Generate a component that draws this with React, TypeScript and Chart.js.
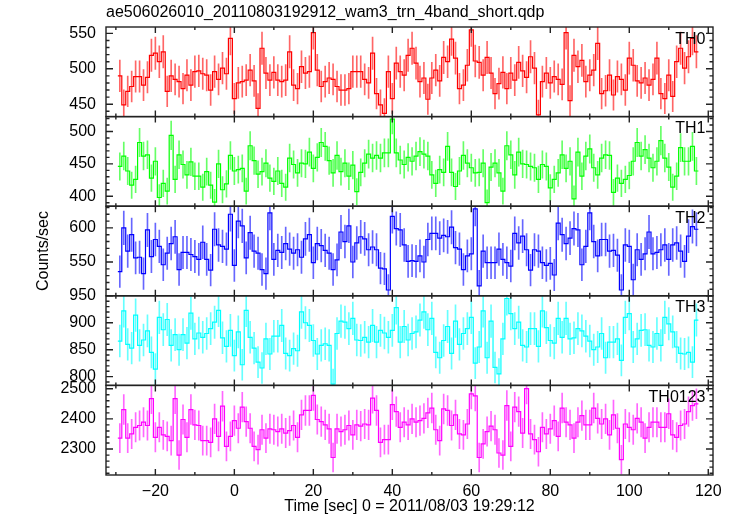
import React, { useEffect, useRef } from 'react';
import { Chart, registerables } from 'chart.js';

Chart.register(...registerables);

const TITLE = 'ae506026010_20110803192912_wam3_trn_4band_short.qdp';
const X_LABEL = 'Time [sec] 0 = 2011/08/03 19:29:12';
const Y_LABEL = 'Counts/sec';

// 1-second bins, first bin centred at -29 s
const FIRST_BIN = -29;
const BIN_WIDTH = 1;
const X_MIN = -32.5;
const X_MAX = 121.2;

const panelNames = ['TH0', 'TH1', 'TH2', 'TH3', 'TH0123'];
const panelColors = ['#ff0000', '#00ff00', '#0000ff', '#00ffff', '#ff00ff'];
const panelErrColors = [
  'rgba(255,0,0,0.6)',
  'rgba(0,255,0,0.6)',
  'rgba(0,0,255,0.6)',
  'rgba(0,255,255,0.6)',
  'rgba(255,0,255,0.6)',
];
const panelMin = [432.5, 384.6, 500.5, 783.7, 2214];
const panelMax = [559, 523, 631.8, 950, 2511];
const panelMajor = [50, 50, 50, 50, 100];
const panelMinor = [10, 10, 10, 10, 20];

const th0 = [
  490, 449, 468, 475, 489, 489, 477, 488, 519, 522,
  510, 524, 468, 490, 485, 482, 472, 491, 477, 496,
  497, 493, 491, 470, 496, 485, 501, 493, 543, 458,
  480, 482, 484, 498, 483, 444, 529, 494, 484, 495,
  484, 482, 484, 524, 477, 472, 503, 494, 496, 551,
  498, 475, 482, 487, 485, 475, 470, 470, 472, 496,
  496, 496, 485, 480, 522, 465, 449, 437, 496, 458,
  508, 496, 491, 519, 529, 508, 482, 487, 457, 487,
  498, 483, 516, 510, 542, 515, 472, 477, 505, 555,
  511, 509, 491, 516, 494, 465, 479, 495, 472, 494,
  484, 509, 497, 488, 517, 501, 435, 482, 494, 480,
  489, 485, 478, 551, 455, 519, 503, 512, 482, 491,
  498, 536, 465, 469, 491, 463, 489, 485, 470, 515,
  505, 483, 480, 487, 477, 485, 515, 465, 458, 491,
  461, 510, 529, 501, 517, 543, 524,
];

const th1 = [
  446, 462, 439, 417, 426, 483, 462, 464, 428, 454,
  398, 420, 408, 494, 426, 464, 449, 433, 453, 431,
  431, 414, 438, 417, 391, 450, 410, 419, 463, 439,
  441, 443, 408, 478, 455, 434, 438, 451, 428, 423,
  439, 420, 414, 459, 449, 436, 451, 450, 468, 443,
  460, 483, 477, 455, 436, 463, 438, 451, 431, 448,
  407, 437, 451, 465, 459, 463, 459, 467, 467, 519,
  467, 456, 449, 460, 454, 462, 469, 465, 462, 433,
  420, 441, 437, 477, 437, 415, 439, 463, 451, 444,
  436, 437, 451, 390, 445, 451, 436, 408, 478, 464,
  433, 468, 450, 449, 446, 444, 426, 449, 446, 413,
  426, 436, 464, 443, 454, 396, 468, 431, 462, 473,
  444, 433, 459, 464, 463, 406, 428, 420, 426, 432,
  454, 483, 462, 472, 459, 444, 454, 486, 459, 445,
  414, 431, 475, 454, 454, 477, 439,
];

const th2 = [
  536, 600, 566, 590, 556, 557, 533, 597, 558, 583,
  573, 546, 563, 577, 587, 539, 564, 564, 561, 558,
  554, 579, 554, 538, 598, 575, 573, 569, 620, 545,
  610, 603, 556, 593, 566, 563, 539, 533, 622, 554,
  567, 564, 577, 569, 563, 568, 557, 584, 590, 549,
  577, 574, 567, 563, 539, 553, 594, 580, 603, 550,
  578, 587, 584, 568, 572, 568, 541, 540, 509, 617,
  599, 597, 575, 551, 552, 551, 559, 550, 583, 592,
  592, 585, 589, 587, 601, 571, 569, 539, 559, 562,
  628, 515, 566, 549, 549, 549, 569, 554, 549, 544,
  592, 578, 588, 568, 538, 568, 566, 549, 545, 548,
  531, 607, 590, 577, 585, 599, 597, 546, 573, 622,
  580, 559, 583, 583, 566, 567, 560, 509, 575, 573,
  524, 568, 554, 562, 594, 562, 564, 568, 575, 554,
  575, 578, 566, 551, 588, 602, 598,
];

const th3 = [
  866, 922, 860, 853, 914, 858, 868, 885, 845, 814,
  910, 887, 906, 858, 878, 850, 878, 862, 918, 870,
  881, 873, 880, 889, 901, 923, 872, 856, 886, 839,
  883, 822, 923, 873, 853, 827, 816, 870, 842, 875,
  875, 895, 843, 839, 852, 848, 920, 900, 895, 867,
  842, 858, 861, 858, 786, 880, 903, 901, 889, 908,
  868, 867, 873, 864, 895, 864, 886, 881, 873, 886,
  928, 864, 893, 868, 880, 883, 905, 920, 887, 908,
  845, 835, 867, 893, 843, 903, 860, 880, 889, 910,
  825, 855, 922, 835, 903, 817, 805, 870, 945, 917,
  889, 901, 858, 855, 889, 889, 856, 922, 891, 867,
  862, 908, 873, 908, 870, 872, 889, 885, 875, 866,
  850, 855, 880, 835, 864, 864, 870, 830, 910, 917,
  855, 870, 886, 887, 858, 855, 880, 858, 910, 898,
  883, 855, 843, 842, 845, 827, 905,
];

const th0123 = [
  2336, 2431, 2336, 2350, 2372, 2378, 2389, 2378, 2467, 2339,
  2372, 2347, 2342, 2328, 2467, 2280, 2398, 2339, 2431, 2380,
  2378, 2328, 2328, 2322, 2400, 2342, 2442, 2309, 2342, 2394,
  2369, 2439, 2391, 2369, 2309, 2298, 2364, 2336, 2367, 2364,
  2358, 2367, 2353, 2361, 2378, 2339, 2413, 2428, 2428, 2478,
  2398, 2391, 2380, 2367, 2272, 2367, 2358, 2364, 2378, 2347,
  2380, 2376, 2383, 2380, 2469, 2428, 2322, 2331, 2331, 2447,
  2424, 2372, 2389, 2380, 2400, 2389, 2394, 2402, 2420, 2436,
  2364, 2328, 2433, 2428, 2378, 2413, 2350, 2347, 2383, 2483,
  2476, 2272, 2317, 2358, 2376, 2364, 2287, 2280, 2444, 2309,
  2439, 2424, 2353, 2500, 2350, 2331, 2291, 2372, 2350, 2367,
  2394, 2342, 2436, 2389, 2380, 2336, 2389, 2411, 2380, 2380,
  2436, 2402, 2383, 2400, 2347, 2413, 2369, 2265, 2383, 2372,
  2364, 2402, 2389, 2336, 2372, 2389, 2389, 2372, 2372, 2417,
  2347, 2339, 2378, 2383, 2424, 2444, 2450,
];

const series = [th0, th1, th2, th3, th0123];

const FONT_FAMILY = '"Liberation Sans", Arial, Helvetica, sans-serif';

const panelPlugin = {
  id: 'qdpPanels',
  beforeDatasetDraw(chart: any, args: any) {
    const ds = chart.data.datasets[args.index];
    const ys = chart.scales[ds.yAxisID];
    const { left, right } = chart.chartArea;
    const ctx = chart.ctx;
    ctx.save();
    ctx.beginPath();
    ctx.rect(left, ys.top, right - left, ys.bottom - ys.top);
    ctx.clip();
  },
  afterDatasetDraw(chart: any) {
    chart.ctx.restore();
  },
  afterDraw(chart: any) {
    const ctx = chart.ctx;
    const { left, right } = chart.chartArea;
    const xs = chart.scales.x;
    ctx.save();
    ctx.strokeStyle = '#222';
    ctx.lineWidth = 1.4;
    for (let i = 0; i < series.length; i++) {
      const ys = chart.scales['y' + i];
      const top = ys.top;
      const bottom = ys.bottom;
      ctx.strokeRect(left, top, right - left, bottom - top);
      ctx.beginPath();
      for (let k = Math.ceil(X_MIN / 10); k * 10 <= X_MAX; k++) {
        const v = k * 10;
        const px = xs.getPixelForValue(v);
        const len = v % 20 === 0 ? 6 : 3;
        ctx.moveTo(px, top);
        ctx.lineTo(px, top + len);
        ctx.moveTo(px, bottom);
        ctx.lineTo(px, bottom - len);
      }
      const minor = panelMinor[i];
      const major = panelMajor[i];
      for (let k = Math.ceil(panelMin[i] / minor); k * minor <= panelMax[i]; k++) {
        const v = k * minor;
        const py = ys.getPixelForValue(v);
        const len = v % major === 0 ? 7 : 3.5;
        ctx.moveTo(left, py);
        ctx.lineTo(left + len, py);
        ctx.moveTo(right, py);
        ctx.lineTo(right - len, py);
      }
      ctx.stroke();
      ctx.fillStyle = '#000';
      ctx.font = '16px ' + FONT_FAMILY;
      ctx.textAlign = 'right';
      ctx.textBaseline = 'alphabetic';
      ctx.fillText(panelNames[i], right - 7.5, top + 16.5);
    }
    ctx.restore();
  },
};

export default function App() {
  const ref = useRef<HTMLCanvasElement | null>(null);

  useEffect(() => {
    const canvas = ref.current;
    if (!canvas) return;

    const datasets: any[] = [];
    series.forEach((vals, i) => {
      const steps = vals.map((v, j) => ({ x: FIRST_BIN + j * BIN_WIDTH - BIN_WIDTH / 2, y: v }));
      steps.push({
        x: FIRST_BIN + (vals.length - 1) * BIN_WIDTH + BIN_WIDTH / 2,
        y: vals[vals.length - 1],
      });
      datasets.push({
        type: 'line',
        label: panelNames[i],
        data: steps,
        yAxisID: 'y' + i,
        xAxisID: 'x',
        stepped: true,
        borderColor: panelColors[i],
        borderWidth: 1.2,
        pointRadius: 0,
        fill: false,
        tension: 0,
        order: 0,
      });
      datasets.push({
        type: 'bar',
        label: panelNames[i] + ' err',
        data: vals.map((v, j) => {
          const e = Math.sqrt(v);
          return { x: FIRST_BIN + j * BIN_WIDTH, y: [v - e, v + e] };
        }),
        yAxisID: 'y' + i,
        xAxisID: 'x',
        backgroundColor: panelErrColors[i],
        borderWidth: 0,
        barThickness: 1,
        grouped: false,
        order: 1,
      });
    });

    const tickFont = { family: FONT_FAMILY, size: 16 };
    const scales: any = {
      x: {
        type: 'linear',
        position: 'bottom',
        offset: false,
        min: X_MIN,
        max: X_MAX,
        grid: { display: false, drawTicks: false, offset: false },
        border: { display: false },
        ticks: {
          stepSize: 20,
          includeBounds: false,
          autoSkip: false,
          maxRotation: 0,
          padding: 7,
          color: '#000',
          font: tickFont,
          callback: (v: any) => String(v).replace('-', '\u2212'),
        },
        title: {
          display: true,
          text: X_LABEL,
          color: '#000',
          font: tickFont,
          padding: { top: 0, bottom: 0 },
        },
        afterFit: (s: any) => {
          s.height = 41;
        },
      },
    };
    for (let i = series.length - 1; i >= 0; i--) {
      const major = panelMajor[i];
      scales['y' + i] = {
        type: 'linear',
        position: 'left',
        stack: 'panels',
        stackWeight: 1,
        min: panelMin[i],
        max: panelMax[i],
        grid: { display: false, drawTicks: false },
        border: { display: false },
        ticks: {
          stepSize: panelMinor[i],
          includeBounds: false,
          autoSkip: false,
          padding: 10,
          color: '#000',
          font: tickFont,
          callback: (v: any) => String(v),
        },
        afterBuildTicks: (s: any) => {
          s.ticks = s.ticks.filter((t: any) => Math.abs(t.value % major) < 1e-6);
        },
        title: {
          display: i === 2,
          text: Y_LABEL,
          color: '#000',
          font: tickFont,
          padding: { top: 34, bottom: 0 },
        },
        afterFit: (s: any) => {
          s.width = 106;
        },
      };
    }

    const chart = new Chart(canvas, {
      type: 'line',
      data: { datasets },
      options: {
        responsive: false,
        animation: false,
        events: [],
        layout: { padding: { left: 0, right: 21, top: 0, bottom: 0 } },
        plugins: {
          legend: { display: false },
          tooltip: { enabled: false },
          title: {
            display: true,
            text: TITLE,
            align: 'start',
            fullSize: false,
            color: '#000',
            font: { family: FONT_FAMILY, size: 16, weight: 'normal' },
            padding: { top: 3, bottom: 4.8 },
          },
        },
        scales,
      } as any,
      plugins: [panelPlugin],
    } as any);

    return () => chart.destroy();
  }, []);

  return (
    <div style={{ position: 'fixed', left: 0, top: 0, width: 734, height: 516, background: '#fff' }}>
      <canvas ref={ref} width={734} height={516} style={{ width: 734, height: 516, display: 'block' }} />
    </div>
  );
}
